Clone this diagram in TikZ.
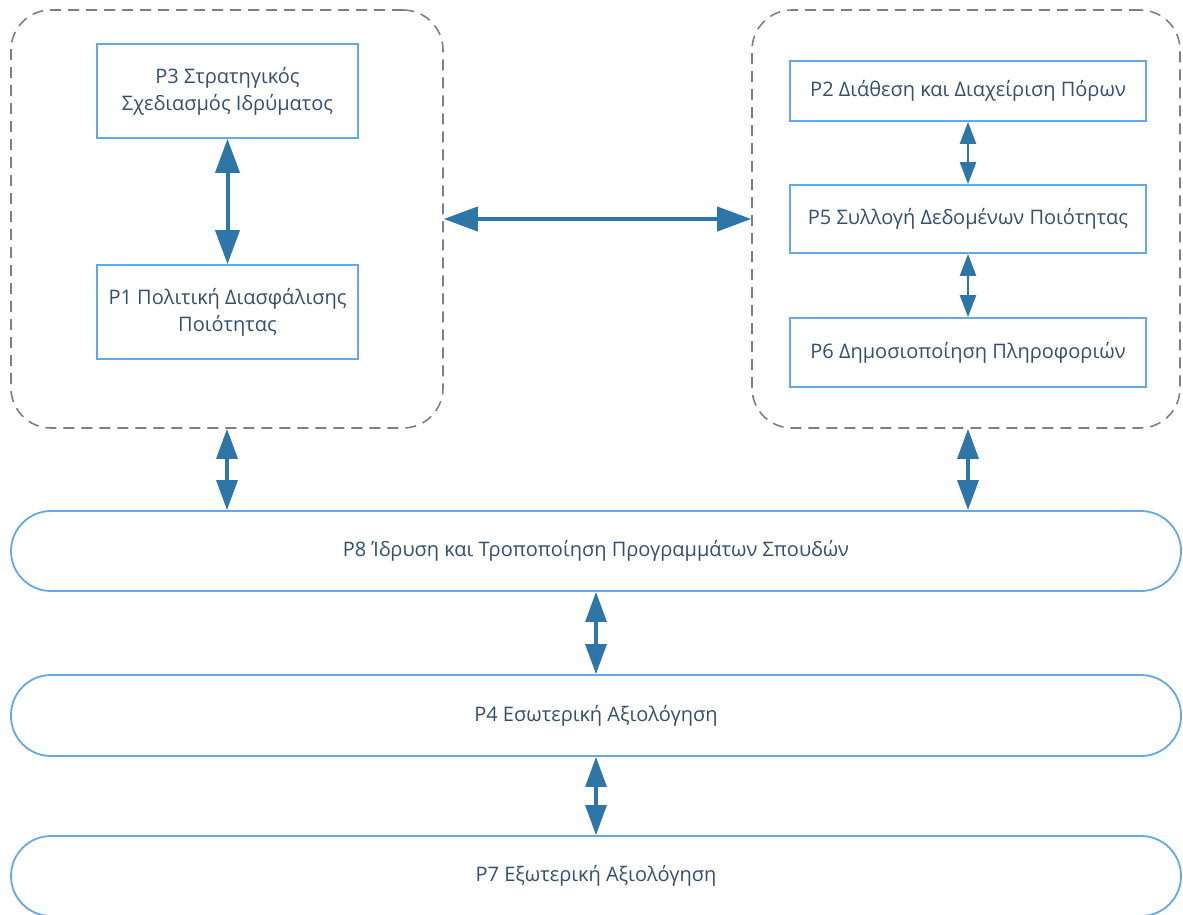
\documentclass[tikz,border=0pt]{standalone}
\usepackage{fontspec}
\setmainfont{Open Sans}
\usetikzlibrary{arrows.meta,calc}
\definecolor{boxblue}{HTML}{63A9E6}
\definecolor{arrblue}{HTML}{2E75A8}
\definecolor{txtcol}{HTML}{34506E}
\definecolor{dashgray}{HTML}{7F7F7F}
\tikzset{
  container/.style={draw=dashgray, line width=1.6pt, dash pattern=on 11pt off 7pt, rounded corners=40pt, inner sep=0pt},
  procbox/.style={draw=boxblue, line width=1.8pt, fill=white, inner sep=4pt, align=center, text=txtcol, font=\fontsize{20}{27}\selectfont},
  pill/.style={draw=boxblue, line width=1.8pt, fill=white, rounded corners=40pt, minimum width=1170pt, inner sep=0pt, align=center, text=txtcol, font=\fontsize{20}{27}\selectfont},
  bigarr/.style={draw=arrblue, line width=4pt, {Triangle[length=34pt,width=24pt]}-{Triangle[length=34pt,width=24pt]}},
  midarr/.style={draw=arrblue, line width=3.2pt, {Triangle[length=30pt,width=21pt]}-{Triangle[length=30pt,width=21pt]}},
  smallarr/.style={draw=arrblue, line width=2.4pt, {Triangle[length=22pt,width=16pt]}-{Triangle[length=22pt,width=16pt]}},
}
\begin{document}
\begin{tikzpicture}[x=1pt,y=-1pt]
\useasboundingbox[fill=white] (0,0) rectangle (1183,914);
% containers
\node[container, minimum width=432pt, minimum height=418pt] (L) at (227,219) {};
\node[container, minimum width=428pt, minimum height=418pt] (R) at (966,219) {};
% left boxes
\node[procbox, minimum width=261pt, minimum height=94pt] (P3) at (227.5,91) {P3 Στρατηγικός\\Σχεδιασμός Ιδρύματος};
\node[procbox, minimum width=261pt, minimum height=94pt] (P1) at (227.5,312) {P1 Πολιτική Διασφάλισης\\Ποιότητας};
% right boxes
\node[procbox, minimum width=356pt, minimum height=60pt] (P2) at (968,91) {P2 Διάθεση και Διαχείριση Πόρων};
\node[procbox, minimum width=356pt, minimum height=68pt] (P5) at (968,219) {P5 Συλλογή Δεδομένων Ποιότητας};
\node[procbox, minimum width=356pt, minimum height=69pt] (P6) at (968,352.5) {P6 Δημοσιοποίηση Πληροφοριών};
% pills
\node[pill, minimum height=80pt] (P8) at (596,551) {P8 Ίδρυση και Τροποποίηση Προγραμμάτων Σπουδών};
\node[pill, minimum height=81pt] (P4) at (596,715.5) {P4 Εσωτερική Αξιολόγηση};
\node[pill, minimum height=80pt] (P7) at (596,876) {P7 Εξωτερική Αξιολόγηση};
% connectors
\draw[bigarr] (P3.south) -- (P1.north);
\draw[bigarr] (L.east) -- (R.west);
\draw[smallarr] (P2.south) -- (P5.north);
\draw[smallarr] (P5.south) -- (P6.north);
\draw[midarr] (L.south) -- (L.south |- P8.north);
\draw[midarr] (P6.south |- R.south) -- (P6.south |- P8.north);
\draw[midarr] (P8.south) -- (P4.north);
\draw[midarr] (P4.south) -- (P7.north);
\end{tikzpicture}
\end{document}
